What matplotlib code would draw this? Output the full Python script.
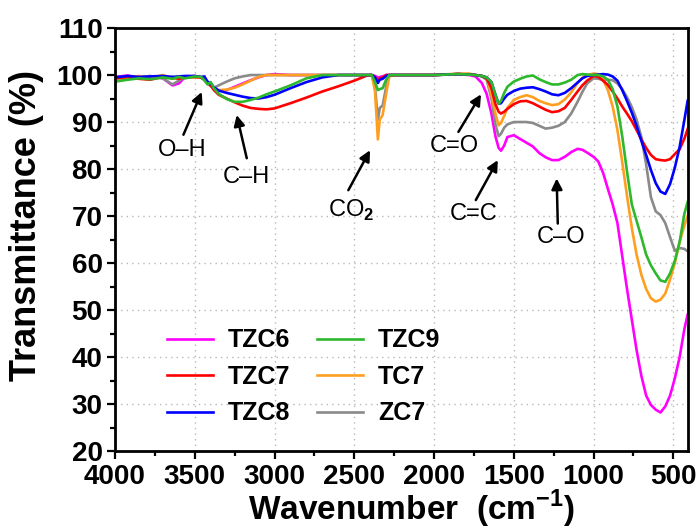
import matplotlib
matplotlib.use('Agg')
import matplotlib.pyplot as plt
from matplotlib.ticker import MultipleLocator

plt.rcParams['font.family'] = ['Liberation Sans', 'DejaVu Sans']
plt.rcParams['font.weight'] = 'bold'
plt.rcParams['mathtext.fontset'] = 'custom'
plt.rcParams['mathtext.rm'] = 'Liberation Sans'
plt.rcParams['mathtext.bf'] = 'Liberation Sans:bold'

# ---------------- data ----------------
wavenumber = [4000, 3920, 3850, 3780, 3700, 3640, 3600, 3560, 3500, 3460,
              3440, 3420, 3400, 3380, 3350, 3300, 3250, 3200, 3150, 3100,
              3050, 3000, 2900, 2800, 2700, 2600, 2500, 2420, 2390, 2370,
              2352, 2340, 2322, 2300, 2280, 2200, 2000, 1850, 1780, 1740,
              1700, 1670, 1640, 1615, 1595, 1580, 1560, 1540, 1500, 1460,
              1420, 1380, 1340, 1300, 1260, 1220, 1180, 1140, 1100, 1070,
              1040, 1000, 970, 940, 910, 880, 850, 820, 790, 760,
              730, 700, 670, 640, 610, 580, 550, 520, 490, 460,
              430, 410]

tzc6 = [99.6, 99.9, 99.4, 99.7, 99.3, 97.8, 98.2, 99.6, 99.8, 99.5,
        99.0, 98.5, 97.8, 97.0, 96.6, 96.8, 97.5, 98.2, 98.9, 99.5,
        100.0, 100.2, 100.0, 100.0, 100.0, 100.0, 100.0, 100.0, 100.0, 99.8,
        99.4, 99.6, 99.7, 100.0, 100.0, 100.0, 100.0, 100.2, 100.0, 99.7,
        98.3, 96.0, 91.8, 87.0, 84.5, 83.9, 85.0, 86.8, 87.2, 86.4,
        85.6, 84.8, 83.4, 82.5, 81.9, 81.9, 82.6, 83.6, 84.3, 84.1,
        83.5, 82.6, 81.6, 79.2, 75.8, 72.5, 68.5, 61.5, 54.5, 48.0,
        41.5, 36.0, 31.8, 29.8, 28.8, 28.2, 29.5, 31.8, 35.5, 40.0,
        46.0, 49.0]

tzc7 = [99.3, 99.6, 99.2, 99.0, 99.6, 99.4, 99.2, 99.5, 99.6, 99.5,
        99.0, 98.3, 97.8, 96.8, 95.8, 95.0, 94.2, 93.5, 93.0, 92.8,
        92.7, 92.9, 94.0, 95.2, 96.5, 97.6, 98.8, 99.9, 100.0, 99.6,
        98.8, 99.3, 99.5, 100.0, 100.0, 100.0, 100.0, 100.2, 100.1, 100.0,
        99.8, 99.3, 97.2, 93.8, 92.2, 91.8, 92.2, 92.8, 93.8, 94.4,
        94.5, 94.0, 93.3, 92.6, 92.1, 92.3, 93.0, 94.7, 96.5, 97.8,
        98.8, 99.8, 99.6, 98.8, 97.9, 96.5, 95.0, 93.3, 91.8, 90.2,
        88.3, 86.3, 84.5, 83.0, 82.1, 81.9, 81.8, 82.1, 83.2, 84.2,
        86.5, 88.5]

tzc8 = [99.5, 99.8, 99.6, 99.7, 99.8, 99.6, 99.7, 99.8, 99.8, 99.6,
        99.7, 98.6, 98.2, 97.4, 96.7, 96.2, 95.8, 95.4, 95.1, 95.0,
        95.3, 95.8, 97.2, 98.5, 99.5, 100.0, 100.0, 100.0, 100.0, 99.5,
        98.3, 99.0, 99.2, 99.8, 100.0, 100.0, 100.0, 100.2, 100.1, 100.0,
        99.8, 99.5, 98.5, 95.8, 93.9, 94.0, 95.0, 95.8, 96.6, 97.1,
        97.3, 97.4, 97.0, 96.5, 95.9, 95.7, 96.2, 97.2, 98.4, 99.3,
        99.8, 100.0, 100.1, 100.2, 100.1, 99.7, 98.8, 96.8, 94.5, 92.0,
        89.2, 86.0, 83.0, 79.8, 77.0, 75.2, 74.7, 76.8, 80.3, 84.7,
        90.5, 94.5]

tzc9 = [98.6, 99.0, 99.3, 99.1, 99.5, 99.2, 99.6, 99.3, 99.7, 99.6,
        98.9, 98.0, 98.5, 97.2, 96.0, 94.9, 94.3, 94.3, 94.7, 95.2,
        95.9, 96.5, 97.8, 99.3, 100.0, 100.0, 100.0, 100.0, 100.0, 98.5,
        96.8, 97.0, 97.2, 99.0, 100.0, 100.0, 100.0, 100.2, 100.1, 100.0,
        99.8, 99.5, 98.5, 95.8, 93.9, 94.5, 96.2, 97.5, 98.6, 99.2,
        99.7, 99.9, 99.1, 98.5, 98.0, 98.0, 98.4, 99.0, 100.0, 100.2,
        100.1, 100.0, 100.0, 99.7, 99.0, 97.0, 93.3, 87.0, 79.5, 72.5,
        69.0, 65.5, 61.8, 59.5, 57.8, 56.3, 56.0, 57.8, 60.5, 64.5,
        70.5, 73.0]

tc7 = [99.0, 99.5, 99.8, 99.4, 100.0, 99.3, 99.6, 99.7, 99.5, 99.5,
       99.2, 98.2, 98.0, 97.2, 96.8, 96.9, 97.3, 98.0, 98.8, 99.6,
       100.0, 100.0, 100.0, 100.0, 100.0, 100.0, 100.0, 100.0, 100.0, 96.5,
       86.3, 90.5, 91.5, 96.0, 99.8, 100.0, 100.0, 100.3, 100.3, 100.0,
       99.8, 99.5, 95.8, 91.8, 89.3, 89.8, 91.3, 93.0, 94.7, 95.3,
       95.7, 95.3, 94.5, 94.0, 93.6, 93.8, 94.8, 96.3, 98.3, 99.4,
       100.0, 100.3, 100.2, 99.0, 96.8, 93.3, 88.3, 81.5, 74.3, 67.5,
       61.8, 57.5, 54.5, 52.5, 51.8, 52.2, 53.5, 56.5, 60.0, 64.5,
       68.0, 70.0]

zc7 = [99.0, 99.3, 99.5, 99.8, 99.3, 98.0, 98.8, 99.5, 99.6, 99.4,
       99.0, 98.2, 97.6, 97.3, 97.8, 98.6, 99.3, 99.7, 100.0, 100.0,
       100.0, 100.0, 100.0, 100.0, 100.0, 100.0, 100.0, 100.0, 100.0, 97.5,
       90.5, 93.0, 93.5, 97.5, 100.0, 100.0, 100.0, 100.2, 100.2, 100.0,
       99.7, 99.0, 95.0, 89.5, 87.0, 87.5, 88.8, 89.5, 90.0, 90.0,
       90.0, 89.8, 89.2, 88.6, 88.8, 89.2, 90.0, 91.8, 94.3, 96.4,
       98.2, 99.3, 99.2, 99.0, 99.0, 98.9, 98.2, 97.0, 95.3, 93.2,
       90.5, 86.8, 81.0, 74.0, 71.0, 70.2, 68.5, 65.5, 62.6, 63.2,
       63.0, 62.5]

series_names = ['TZC6', 'TZC7', 'TZC8', 'TZC9', 'TC7', 'ZC7']
series_values = [tzc6, tzc7, tzc8, tzc9, tc7, zc7]
series_colors = ['#FF00FF', '#FF0000', '#0000FF', '#2DB82D', '#FF9F1F', '#8A8A8A']
series_z = [2.0, 2.3, 2.4, 2.5, 2.2, 2.1]

x_ticks = [4000, 3500, 3000, 2500, 2000, 1500, 1000, 500]
y_ticks = [20, 30, 40, 50, 60, 70, 80, 90, 100, 110]

# annotations: label, text position, arrow tail, arrow head (data coords)
annotations = [
    ('O\u2013H', (3576, 84.0), (3571, 87.3), (3456, 96.4)),
    ('C\u2013H', (3179, 78.3), (3174, 82.3), (3237, 91.5)),
    ('CO$_{\\rm 2}$', (2522, 71.3), (2537, 75.5), (2401, 84.0)),
    ('C=O', (1870, 85.0), (1847, 87.9), (1705, 95.9)),
    ('C=C', (1751, 70.4), (1738, 73.4), (1600, 81.9)),
    ('C\u2013O', (1205, 65.5), (1224, 68.4), (1231, 78.0)),
]

# ---------------- figure ----------------
fig = plt.figure(figsize=(7, 5.29), dpi=100)
ax = fig.add_axes([0.1643, 0.1474, 0.818, 0.7996])

handles = []
for name, vals, col, z in zip(series_names, series_values, series_colors, series_z):
    h, = ax.plot(wavenumber, vals, color=col, lw=1.9, label=name, zorder=z,
                 solid_joinstyle='round')
    handles.append(h)

ax.set_xlim(4000, 410)
ax.set_ylim(20, 110)
ax.set_xticks(x_ticks)
ax.set_yticks(y_ticks)
ax.xaxis.set_minor_locator(MultipleLocator(250))
ax.yaxis.set_minor_locator(MultipleLocator(5))
ax.grid(True, which='major', linestyle=(0, (1, 3)), color='#b8b8b8', lw=1.0)
ax.set_axisbelow(True)

ax.tick_params(which='major', direction='out', length=6, width=1.6,
               labelsize=20, top=False, right=False, pad=3)
ax.tick_params(which='minor', direction='out', length=3.5, width=1.6,
               top=False, right=False)
for sp in ax.spines.values():
    sp.set_linewidth(2.0)

ax.set_ylabel('Transmittance (%)', fontsize=26, fontweight='bold')
ax.yaxis.set_label_coords(-0.124, 0.534)
ax.set_xlabel('Wavenumber  (cm$^{\\mathbf{-1}}$)', fontsize=24, fontweight='bold')
ax.xaxis.set_label_coords(0.517, -0.088)

for label, tpos, tail, head in annotations:
    ax.annotate('', xy=head, xytext=tail,
                arrowprops=dict(arrowstyle='-|>', color='black', lw=1.8,
                                mutation_scale=16, shrinkA=0, shrinkB=0),
                zorder=5)
    ax.text(tpos[0], tpos[1], label, ha='center', va='center',
            fontsize=17, fontweight='normal', zorder=5)

ax.legend(handles=handles, ncol=2, loc='upper left',
          bbox_to_anchor=(0.09, 0.29), frameon=False, fontsize=18,
          handlelength=1.85, handletextpad=0.6, columnspacing=1.05,
          labelspacing=0.5, borderpad=0, borderaxespad=0)

fig.savefig('out.png', dpi=100)
